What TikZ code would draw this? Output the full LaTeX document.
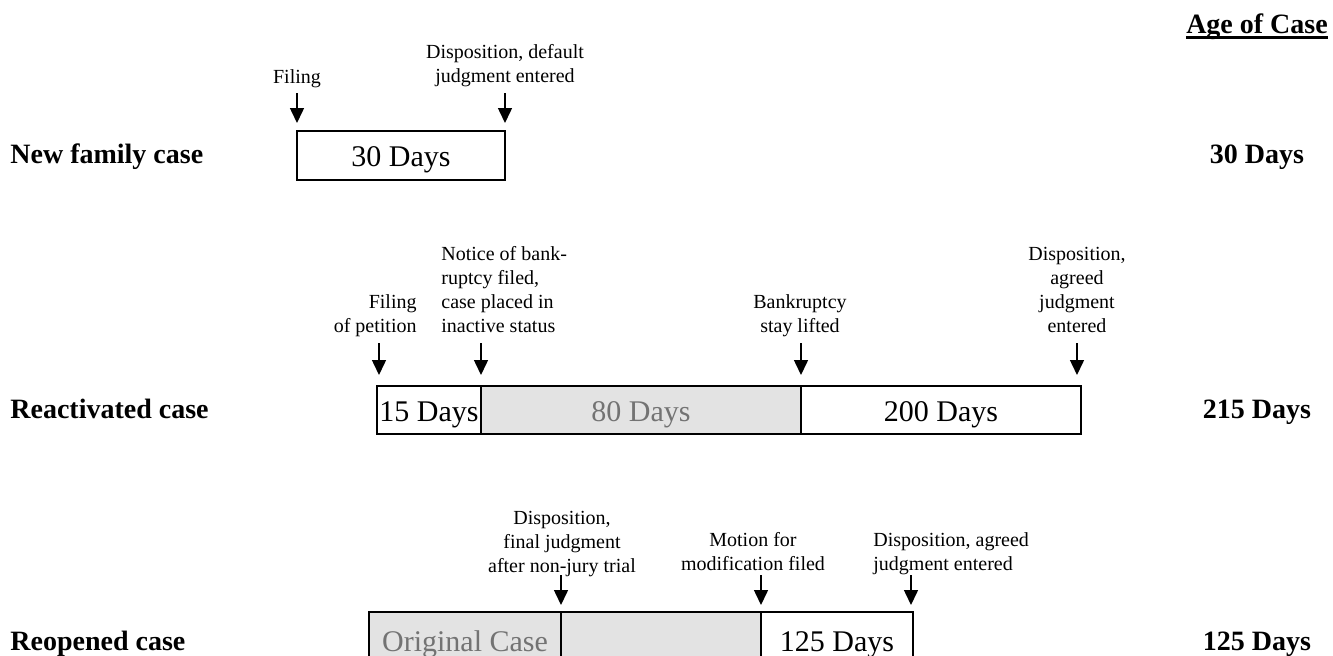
\documentclass[tikz,border=0pt]{standalone}
\usepackage{fontspec}
\setmainfont{Liberation Serif}
\usepackage{tikz}
\usetikzlibrary{arrows.meta}
\tikzset{lbl/.style={font=\fontsize{10}{12}\selectfont, inner sep=0pt},
 seg/.style={draw=black, line width=1pt, anchor=north west, inner sep=0pt, outer sep=0pt,
   minimum height=24pt, text height=11pt, text depth=0pt, font=\fontsize{15}{18}\selectfont},
 oldseg/.style={seg, fill=gray!22, text=black!55},
 evt/.style={line width=0.75pt, -{Triangle[width=7pt,length=7.5pt]}},
 rowname/.style={font=\fontsize{14}{16}\selectfont\bfseries, anchor=base west, inner sep=0pt},
 age/.style={font=\fontsize{14}{16}\selectfont\bfseries, anchor=base, inner sep=0pt},
 }

\begin{document}
\begin{tikzpicture}[x=0.5pt, y=-0.5pt]
    \useasboundingbox (0,0) rectangle (1333,655);
    \clip (0,0) rectangle (1333,655);
    % header
    \node[age] (ahead) at (1257,33) {Age of Case};
    \draw[line width=1.3pt] ([yshift=-2.2pt]ahead.base west) -- ([yshift=-2.2pt]ahead.base east);
    % new family case
    \node[rowname] (rnew) at (10,163) {New family case};
    \node[seg, minimum width=104pt, minimum height=24.5pt] (nf) at (297,131) {30 Days};
    \node[lbl, anchor=base] (lfile) at (297,83) {Filing};
    \node[lbl, anchor=base, align=center] (ldefault) at (505,82) {Disposition, default\\judgment entered};
    \draw[evt] ([yshift=19pt]nf.north west) -- ([yshift=4pt]nf.north west);
    \draw[evt] ([yshift=19pt]nf.north east) -- ([yshift=4pt]nf.north east);
    \node[age] (anew) at (1257,163) {30 Days};
    % reactivated case
    \node[rowname] (rreact) at (10,418) {Reactivated case};
    \node[seg, minimum width=52pt] (s15) at (377,386) {15 Days};
    \node[oldseg, minimum width=160pt] (s80) at (s15.north east) {80 Days};
    \node[seg, minimum width=140pt] (s200) at (s80.north east) {200 Days};
    \node[lbl, anchor=base east, align=right] (lpetition) at (417,332) {Filing\\of petition};
    \node[lbl, anchor=base west, align=left] (lnotice) at (441,332) {Notice of bank-\\ruptcy filed,\\case placed in\\inactive status};
    \node[lbl, anchor=base, align=center] (lstay) at (800,332) {Bankruptcy\\stay lifted};
    \node[lbl, anchor=base, align=center] (lagreed) at (1077,332) {Disposition,\\agreed\\judgment\\entered};
    \draw[evt] ([xshift=1pt,yshift=21.5pt]s15.north west) -- ([xshift=1pt,yshift=5.5pt]s15.north west);
    \draw[evt] ([yshift=21.5pt]s80.north west) -- ([yshift=5.5pt]s80.north west);
    \draw[evt] ([yshift=21.5pt]s200.north west) -- ([yshift=5.5pt]s200.north west);
    \draw[evt] ([xshift=-2pt,yshift=21.5pt]s200.north east) -- ([xshift=-2pt,yshift=5.5pt]s200.north east);
    \node[age] (areact) at (1257,418) {215 Days};
    % reopened case
    \node[rowname] (rreop) at (10,650) {Reopened case};
    \node[oldseg, minimum width=96pt, minimum height=28pt] (sorig) at (369,612) {Original Case};
    \node[oldseg, minimum width=100pt, minimum height=28pt] (sgap) at (sorig.north east) {};
    \node[seg, minimum width=76pt, minimum height=28pt] (s125) at (sgap.north east) {125 Days};
    \node[lbl, anchor=base, align=center] (lfinal) at (562,572) {Disposition,\\final judgment\\after non-jury trial};
    \node[lbl, anchor=base, align=center] (lmotion) at (753,570) {Motion for\\modification filed};
    \node[lbl, anchor=base west, align=left] (lagreed2) at (873,570) {Disposition, agreed\\judgment entered};
    \draw[evt] ([yshift=18.5pt]sgap.north west) -- ([yshift=3.5pt]sgap.north west);
    \draw[evt] ([yshift=18.5pt]s125.north west) -- ([yshift=3.5pt]s125.north west);
    \draw[evt] ([xshift=-1pt,yshift=18.5pt]s125.north east) -- ([xshift=-1pt,yshift=3.5pt]s125.north east);
    \node[age] (areop) at (1257,650) {125 Days};
\end{tikzpicture}
\end{document}
